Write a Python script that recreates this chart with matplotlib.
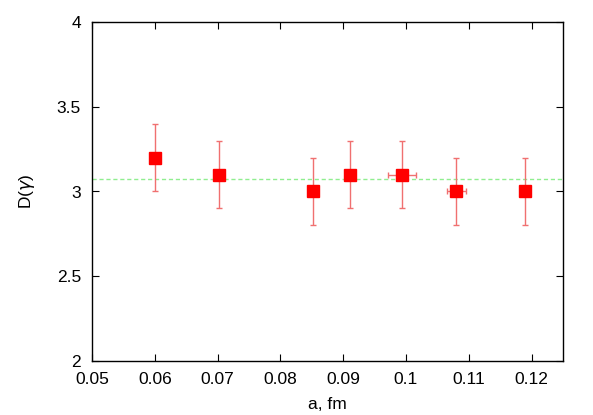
import matplotlib
matplotlib.use("Agg")
import matplotlib.pyplot as plt

a_vals = [0.0600, 0.0703, 0.0852, 0.0911, 0.0994, 0.1080, 0.1189]
d_vals = [3.2, 3.1, 3.0, 3.1, 3.1, 3.0, 3.0]
d_err = [0.2, 0.2, 0.2, 0.2, 0.2, 0.2, 0.2]
a_err = [0.0, 0.0, 0.0, 0.0, 0.0022, 0.0015, 0.0]
fit_level = 3.074
x_ticks = [0.05, 0.06, 0.07, 0.08, 0.09, 0.1, 0.11, 0.12]
x_tick_labels = ["0.05", "0.06", "0.07", "0.08", "0.09", "0.1", "0.11", "0.12"]
y_ticks = [2, 2.5, 3, 3.5, 4]
y_tick_labels = ["2", "2.5", "3", "3.5", "4"]

plt.rcParams['font.family'] = ['Liberation Sans', 'DejaVu Sans']
fig = plt.figure(figsize=(5.93, 4.15), dpi=100)
ax = fig.add_axes([92/593, 1-361/415, (563-92)/593, (361-22)/415])

ax.axhline(fit_level, color='#90ee90', lw=1.0, ls=(0, (3, 2)), zorder=1)
ax.errorbar(a_vals, d_vals, yerr=d_err, xerr=a_err, fmt='none',
            ecolor='#f07070', elinewidth=1.0, capsize=2.5, capthick=1.0, zorder=2)
ax.plot(a_vals, d_vals, 's', color='#ff0000', ms=8.5, zorder=3, ls='none')

ax.set_xlim(0.05, 0.125)
ax.set_ylim(2, 4)
ax.set_xticks(x_ticks)
ax.set_xticklabels(x_tick_labels)
ax.set_yticks(y_ticks)
ax.set_yticklabels(y_tick_labels)
ax.tick_params(direction='in', length=5, width=0.8, labelsize=12.5, top=True, right=True)
ax.tick_params(axis='x', pad=8)
ax.tick_params(axis='y', pad=8)
for s in ax.spines.values():
    s.set_linewidth(1.0)
ax.set_xlabel('a, fm', fontsize=12.5, labelpad=7)
ax.set_ylabel(r'D($\gamma$)', fontsize=12.5, labelpad=14)

fig.savefig('out.png', dpi=100)
